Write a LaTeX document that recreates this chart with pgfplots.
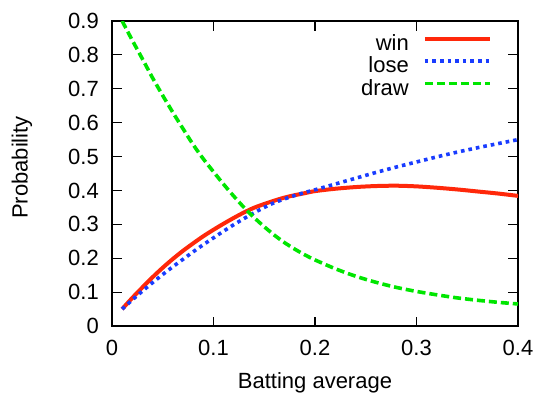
\documentclass[border=0pt]{standalone}
\usepackage{fontspec}
\setmainfont{Liberation Sans}
\usepackage{pgfplots}
\pgfplotsset{compat=1.18}
\usepackage{pgfplotstable}
\definecolor{cwin}{RGB}{255,40,10}
\definecolor{close}{RGB}{25,60,255}
\definecolor{cdraw}{RGB}{0,230,0}

\pgfplotstableread{
x win lose draw
0.01 0.050 0.050 0.900
0.02 0.083 0.077 0.843
0.03 0.114 0.103 0.788
0.04 0.144 0.128 0.732
0.05 0.172 0.152 0.680
0.06 0.198 0.175 0.630
0.07 0.222 0.197 0.582
0.08 0.244 0.219 0.535
0.09 0.265 0.240 0.493
0.10 0.284 0.260 0.455
0.11 0.302 0.280 0.418
0.12 0.319 0.299 0.383
0.13 0.335 0.317 0.350
0.14 0.349 0.334 0.320
0.15 0.360 0.350 0.293
0.16 0.370 0.364 0.268
0.17 0.379 0.375 0.246
0.18 0.386 0.385 0.227
0.19 0.392 0.394 0.210
0.20 0.398 0.402 0.195
0.22 0.405 0.419 0.169
0.24 0.410 0.436 0.147
0.26 0.413 0.453 0.129
0.28 0.414 0.469 0.114
0.30 0.412 0.484 0.102
0.32 0.408 0.499 0.092
0.34 0.403 0.513 0.083
0.36 0.397 0.526 0.076
0.38 0.391 0.538 0.070
0.40 0.384 0.550 0.065
}\datatable

\begin{document}
\begin{tikzpicture}
\useasboundingbox (-112bp,-68bp) rectangle (425bp,326bp);
\begin{axis}[
  scale only axis, width=406bp, height=305bp,
  at={(0,0)}, anchor=south west,
  font=\fontsize{22bp}{26bp}\selectfont,
  xmin=0, xmax=0.4, ymin=0, ymax=0.9,
  xtick={0,0.1,0.2,0.3,0.4},
  ytick={0,0.1,0.2,0.3,0.4,0.5,0.6,0.7,0.8,0.9},
  scaled ticks=false,
  /pgf/number format/assume math mode=true,
  xticklabel style={/pgf/number format/fixed,/pgf/number format/precision=1, inner sep=0pt, anchor=base, yshift=-29bp},
  yticklabel style={/pgf/number format/fixed,/pgf/number format/precision=1, inner sep=0pt, anchor=east, xshift=-13bp},
  tick align=inside, major tick length=9.5bp,
  axis line style={line width=1.3bp},
  every tick/.style={black, line width=1.2bp},
  xlabel={Batting average}, ylabel={Probability},
  xlabel style={at={(axis description cs:0.5,-0.2033)}, anchor=base, inner sep=0pt},
  ylabel style={at={(axis description cs:-0.2081,0.5197)}, anchor=base, rotate=0, inner sep=0pt},
  legend cell align=right, legend plot pos=right,
  legend image code/.code={\draw[#1] (0bp,7.3bp) -- (65bp,7.3bp);},
  legend style={draw=none, fill=none, at={(axis description cs:0.936,0.9557)}, anchor=north east,
    inner sep=0pt, row sep=0pt, column sep=14bp,
    nodes={inner sep=0pt, text height=15.5bp, text depth=7bp}},
]
\addplot[cwin, line width=4bp, smooth] table[x=x, y=win] {\datatable};
\addlegendentry{win}
\addplot[close, line width=3.6bp, dash pattern=on 3.6bp off 4bp, smooth] table[x=x, y=lose] {\datatable};
\addlegendentry{lose}
\addplot[cdraw, line width=3.6bp, dash pattern=on 8bp off 4bp, smooth] table[x=x, y=draw] {\datatable};
\addlegendentry{draw}
\end{axis}
\end{tikzpicture}
\end{document}
